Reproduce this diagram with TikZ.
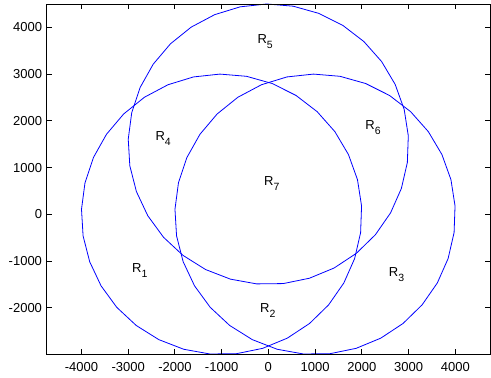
\documentclass[tikz,border=0pt]{standalone}
\usepackage{fontspec}
\setmainfont{Liberation Sans}
\usepackage{tikz}

\tikzset{
  region/.style={blue, line width=0.8pt, line join=round},
  frame/.style={black, line width=0.8pt},
  lbl/.style={anchor=base west, inner sep=0pt, font=\fontsize{13}{13}\selectfont},
  ticklbl/.style={inner sep=0pt, font=\fontsize{13}{13}\selectfont}
}
\newcommand{\reg}[1]{R\raisebox{-5pt}{\fontsize{10.5}{10.5}\selectfont #1}}

\begin{document}
\begin{tikzpicture}[x=0.046735pt, y=0.046735pt]

\useasboundingbox (-5742,-3503) rectangle (4764,4585);

\begin{scope}
\clip (-4743,-2989) rectangle (4743,4500);
\foreach \cx/\cy in {-1000/0, 1000/0, 0/1500} {
    \draw[region] plot[domain=3.4:363.4, samples=34]
        ({\cx+3000*cos(\x)}, {\cy+3000*sin(\x)}) -- cycle;
}
\end{scope}

\draw[frame] (-4743,-2989) rectangle (4743,4500);

\foreach \x in {-4000,-3000,...,4000} {
    \draw[frame] (\x,-2989) -- ++(0,5pt);
    \draw[frame] (\x,4500) -- ++(0,-5pt);
    \node[ticklbl, anchor=base] (xt\x) at ([yshift=-18pt]\x,-2989) {\x};
}
\foreach \y in {-2000,-1000,...,4000} {
    \draw[frame] (-4743,\y) -- ++(5pt,0);
    \draw[frame] (4743,\y) -- ++(-5pt,0);
    \node[ticklbl, anchor=east] (yt\y) at ([xshift=-4.5pt]-4743,\y) {\y};
}

\node[lbl] (r1) at (-2917,-1241) {\reg{1}};
\node[lbl] (r2) at (-179,-2112) {\reg{2}};
\node[lbl] (r3) at (2575,-1327) {\reg{3}};
\node[lbl] (r4) at (-2419,1568) {\reg{4}};
\node[lbl] (r5) at (-236,3659) {\reg{5}};
\node[lbl] (r6) at (2074,1819) {\reg{6}};
\node[lbl] (r7) at (-93,606) {\reg{7}};

\end{tikzpicture}
\end{document}
